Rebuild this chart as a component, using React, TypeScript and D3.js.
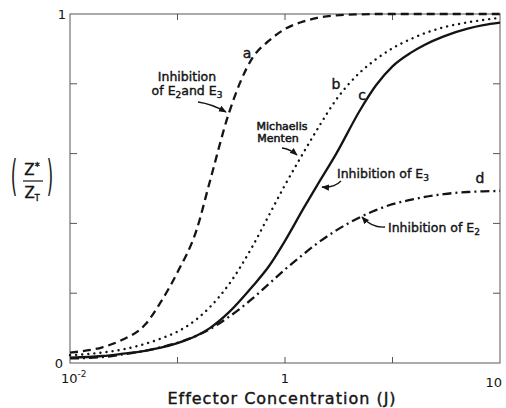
import React from "react";
import * as d3 from "d3";

const concentrationJ = [0.01, 0.02, 0.03, 0.05, 0.07, 0.1, 0.15, 0.2, 0.3, 0.5, 0.7, 1, 1.5, 2, 3, 5, 7, 10, 15, 20, 30, 50, 70, 100];
const curveA = [0.03, 0.045, 0.065, 0.11, 0.175, 0.26, 0.38, 0.52, 0.715, 0.875, 0.922, 0.957, 0.979, 0.989, 0.996, 0.999, 1, 1, 1, 1, 1, 1, 1, 1];
const curveB = [0.022, 0.03, 0.038, 0.055, 0.07, 0.09, 0.125, 0.16, 0.225, 0.335, 0.42, 0.51, 0.605, 0.67, 0.755, 0.833, 0.87, 0.902, 0.929, 0.945, 0.962, 0.976, 0.983, 0.989];
const curveC = [0.015, 0.02, 0.026, 0.035, 0.044, 0.057, 0.078, 0.1, 0.145, 0.22, 0.275, 0.35, 0.445, 0.51, 0.6, 0.725, 0.795, 0.85, 0.89, 0.912, 0.936, 0.958, 0.968, 0.975];
const curveD = [0.013, 0.017, 0.024, 0.035, 0.045, 0.058, 0.078, 0.097, 0.132, 0.185, 0.225, 0.268, 0.313, 0.343, 0.38, 0.418, 0.438, 0.455, 0.468, 0.476, 0.484, 0.49, 0.492, 0.493];

const xTicks = [0.01, 0.1, 1, 10, 100];
const yTicks = [0.2, 0.4, 0.6, 0.8];
const xTickLabels = [
  { v: 0.01, base: "10", sup: "-2" },
  { v: 1, base: "1", sup: "" },
  { v: 100, base: "10", sup: "" },
];
const yTickLabels = [
  { v: 0, t: "0" },
  { v: 1, t: "1" },
];

const W = 506, H = 408;
const L = 70, R = 500, T = 14, B = 363;
const FONT = "'DejaVu Sans', 'Liberation Sans', sans-serif";
const INK = "#141414";

export default function App() {
  const x = d3.scaleLog().domain([0.01, 100]).range([L, R]);
  const y = d3.scaleLinear().domain([0, 1]).range([B, T]);
  const line = d3
    .line<number>()
    .x((_, i) => x(concentrationJ[i]))
    .y((d) => y(d))
    .curve(d3.curveMonotoneX);

  const series = [
    { vals: curveA, dash: "8 5", cap: "butt", w: 2.3 },
    { vals: curveB, dash: "0.1 6", cap: "round", w: 2.4 },
    { vals: curveC, dash: null, cap: "butt", w: 2.3 },
    { vals: curveD, dash: "9 4 2 4", cap: "butt", w: 2.3 },
  ];

  const txt = { fontFamily: FONT, fill: INK, stroke: INK, strokeWidth: 0.4 } as const;

  return (
    <svg width={W} height={H} style={{ position: "absolute", left: 0, top: 0, background: "#fff" }}>
      <defs>
        <marker id="ah" viewBox="0 0 10 10" refX="9" refY="5" markerWidth="6" markerHeight="6" orient="auto">
          <path d="M0,1 L10,5 L0,9 Z" fill={INK} />
        </marker>
      </defs>
      {/* frame */}
      <rect x={L} y={T} width={R - L} height={B - T} fill="none" stroke="#666" strokeWidth={1.1} />
      {/* x ticks */}
      {xTicks.slice(1, -1).map((t) => (
        <g key={"xt" + t} stroke="#555" strokeWidth={1}>
          <line x1={x(t)} x2={x(t)} y1={B} y2={B - 6} />
          <line x1={x(t)} x2={x(t)} y1={T} y2={T + 6} />
        </g>
      ))}
      {/* y ticks */}
      {yTicks.map((t) => (
        <g key={"yt" + t} stroke="#555" strokeWidth={1}>
          <line x1={L} x2={L + 7} y1={y(t)} y2={y(t)} />
          <line x1={R} x2={R - 7} y1={y(t)} y2={y(t)} />
        </g>
      ))}
      {/* tick labels */}
      {xTickLabels.map((d, i) => (
        <text
          key={"xl" + i}
          x={i === 2 ? x(d.v) + 2 : i === 0 ? x(d.v) - 9 : x(d.v)}
          y={i === 2 ? 387 : 383}
          textAnchor={i === 2 ? "end" : i === 0 ? "start" : "middle"}
          fontSize={13}
          {...txt}
          strokeWidth={0}
        >
          {d.base}
          {d.sup && (
            <tspan dy={-6} fontSize={9}>
              {d.sup}
            </tspan>
          )}
        </text>
      ))}
      {yTickLabels.map((d) => (
        <text key={"yl" + d.v} x={d.v === 0 ? 59 : 62} y={y(d.v) + 5} textAnchor="middle" fontSize={13} {...txt} strokeWidth={0}>
          {d.t}
        </text>
      ))}
      {/* curves */}
      {series.map((s, i) => (
        <path
          key={"c" + i}
          d={line(s.vals) || ""}
          fill="none"
          stroke={INK}
          strokeWidth={s.w}
          strokeDasharray={s.dash || undefined}
          strokeLinecap={s.cap as any}
        />
      ))}
      {/* curve letters */}
      <text x={247} y={58} textAnchor="middle" fontSize={14} {...txt}>a</text>
      <text x={336} y={89} textAnchor="middle" fontSize={14} {...txt}>b</text>
      <text x={362} y={100} textAnchor="middle" fontSize={14} {...txt}>c</text>
      <text x={480} y={183} textAnchor="middle" fontSize={14} {...txt}>d</text>

      {/* annotations */}
      <text x={187} y={81} textAnchor="middle" fontSize={12.5} {...txt}>Inhibition</text>
      <text x={187} y={95} textAnchor="middle" fontSize={12.5} {...txt}>
        of E<tspan dy={3} fontSize={9}>2</tspan>
        <tspan dy={-3}>and E</tspan>
        <tspan dy={3} fontSize={9}>3</tspan>
      </text>
      <path d="M198,102 Q212,104 226,112" fill="none" stroke={INK} strokeWidth={1.3} markerEnd="url(#ah)" />

      <text x={282} y={130} textAnchor="middle" fontSize={11} {...txt} strokeWidth={0.5}>Michaelis</text>
      <text x={278} y={142} textAnchor="middle" fontSize={11} {...txt} strokeWidth={0.5}>Menten</text>
      <path d="M282,148 Q290,149 297,155" fill="none" stroke={INK} strokeWidth={1.3} markerEnd="url(#ah)" />

      <text x={337} y={178} fontSize={12.5} {...txt}>
        Inhibition of E<tspan dy={3} fontSize={9}>3</tspan>
      </text>
      <path d="M341,181 Q334,188 322,187" fill="none" stroke={INK} strokeWidth={1.3} markerEnd="url(#ah)" />

      <text x={388} y={232} fontSize={12.5} {...txt}>
        Inhibition of E<tspan dy={3} fontSize={9}>2</tspan>
      </text>
      <path d="M385,227 Q372,228 362,217" fill="none" stroke={INK} strokeWidth={1.3} markerEnd="url(#ah)" />

      {/* y axis label */}
      <g {...txt}>
        <text x={14} y={191} textAnchor="middle" fontSize={30} strokeWidth={0} transform="translate(14,191) scale(0.55,1.45) translate(-14,-191)">(</text>
        <text x={50} y={191} textAnchor="middle" fontSize={30} strokeWidth={0} transform="translate(50,191) scale(0.55,1.45) translate(-50,-191)">)</text>
        <text x={32} y={175} textAnchor="middle" fontSize={15}>
          Z<tspan dy={-5} fontSize={10}>*</tspan>
        </text>
        <line x1={23} x2={43} y1={181} y2={181} stroke={INK} strokeWidth={1.2} />
        <text x={32} y={198} textAnchor="middle" fontSize={15}>
          Z<tspan dy={3} fontSize={8}>T</tspan>
        </text>
      </g>

      {/* x axis title */}
      <text x={282} y={404} textAnchor="middle" fontSize={16} letterSpacing={1} {...txt}>
        Effector Concentration (J)
      </text>
    </svg>
  );
}
